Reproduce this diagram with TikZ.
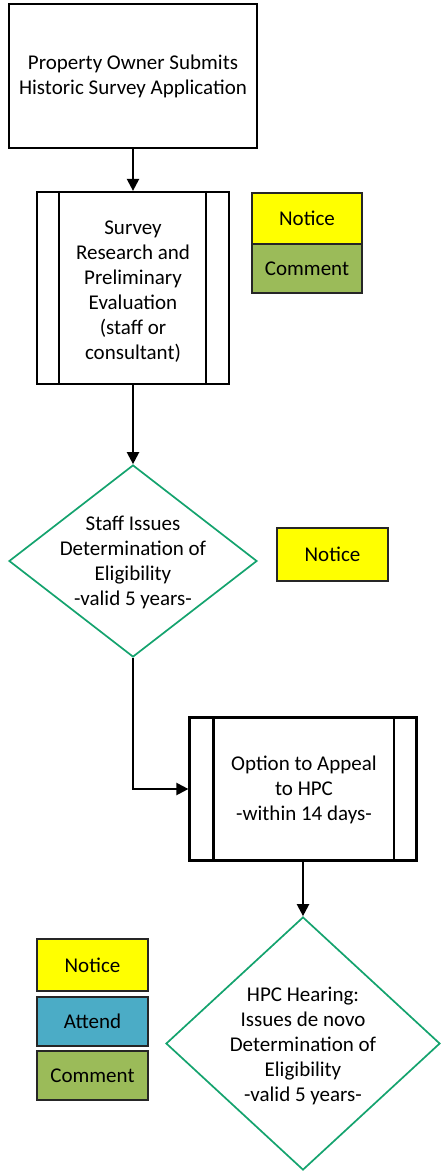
\documentclass[tikz,border=0pt]{standalone}
\usepackage{fontspec}
\setmainfont{Carlito}
\usetikzlibrary{shapes.geometric,arrows.meta}
\definecolor{noticeY}{RGB}{255,255,0}
\definecolor{attendB}{RGB}{75,172,198}
\definecolor{commentG}{RGB}{155,187,89}
\definecolor{diaG}{RGB}{20,163,110}
\tikzset{
  every node/.style={font=\fontsize{21}{25}\selectfont, align=center, inner sep=0pt},
  procbox/.style={draw=black, line width=2.2pt, fill=white, rectangle},
  tagbox/.style={draw=black!85, line width=2pt, rectangle, minimum width=110pt},
  decbox/.style={draw=diaG, line width=1.7pt, diamond, fill=white},
  flow/.style={draw=black, line width=2.2pt, -{Triangle[length=12pt,width=12pt]}},
  innerline/.style={draw=black, line width=2.2pt}
}
\begin{document}
\begin{tikzpicture}[x=1pt,y=-1pt]
\useasboundingbox (0,0) rectangle (441,1172);
% process 1
\node[procbox, minimum width=248pt, minimum height=144pt] (b1) at (133,76)
  {Property Owner Submits\\Historic Survey Application};
% predefined process 2
\node[procbox, minimum width=192pt, minimum height=192pt] (b2) at (133,288) {};
\node (t2) at (133,292) {Survey\\Research and\\Preliminary\\Evaluation\\(staff or\\consultant)};
\draw[innerline] ([xshift=23pt]b2.north west) -- ([xshift=23pt]b2.south west);
\draw[innerline] ([xshift=-24pt]b2.north east) -- ([xshift=-24pt]b2.south east);
% tags 1
\node[tagbox, fill=noticeY, minimum height=51pt] (n1) at (307,218.5) {Notice};
\node[tagbox, fill=commentG, minimum height=49pt] (c1) at (307,268.5) {Comment};
% decision 1
\node[decbox, minimum width=248pt, minimum height=192pt] (d1) at (133,561) {};
\node (t3) at (133,562) {Staff Issues\\Determination of\\Eligibility\\-valid 5 years-};
\node[tagbox, fill=noticeY, minimum width=111pt, minimum height=53pt] (n2) at (332.5,554.5) {Notice};
% predefined process 3
\node[procbox, minimum width=227pt, minimum height=143pt] (b3) at (303,789) {};
\node (t4) at (304,790) {Option to Appeal\\to HPC\\-within 14 days-};
\draw[innerline] ([xshift=25pt]b3.north west) -- ([xshift=25pt]b3.south west);
\draw[innerline] ([xshift=-24pt]b3.north east) -- ([xshift=-24pt]b3.south east);
% decision 2
\node[decbox, minimum width=274pt, minimum height=253pt] (d2) at (303,1043.5) {};
\node (t5) at (303,1046) {HPC Hearing:\\Issues de novo\\Determination of\\Eligibility\\-valid 5 years-};
% legend
\node[tagbox, fill=noticeY, minimum width=111pt, minimum height=52pt] (n3) at (92.5,965) {Notice};
\node[tagbox, fill=attendB, minimum width=111pt, minimum height=49pt] (a3) at (92.5,1021.5) {Attend};
\node[tagbox, fill=commentG, minimum width=111pt, minimum height=49pt] (c3) at (92.5,1075.5) {Comment};
% connectors
\draw[flow] (b1.south) -- (b2.north);
\draw[flow] (b2.south) -- (d1.north);
\draw[flow] (d1.south) |- (b3.west);
\draw[flow] (b3.south) -- (d2.north);
\end{tikzpicture}
\end{document}
